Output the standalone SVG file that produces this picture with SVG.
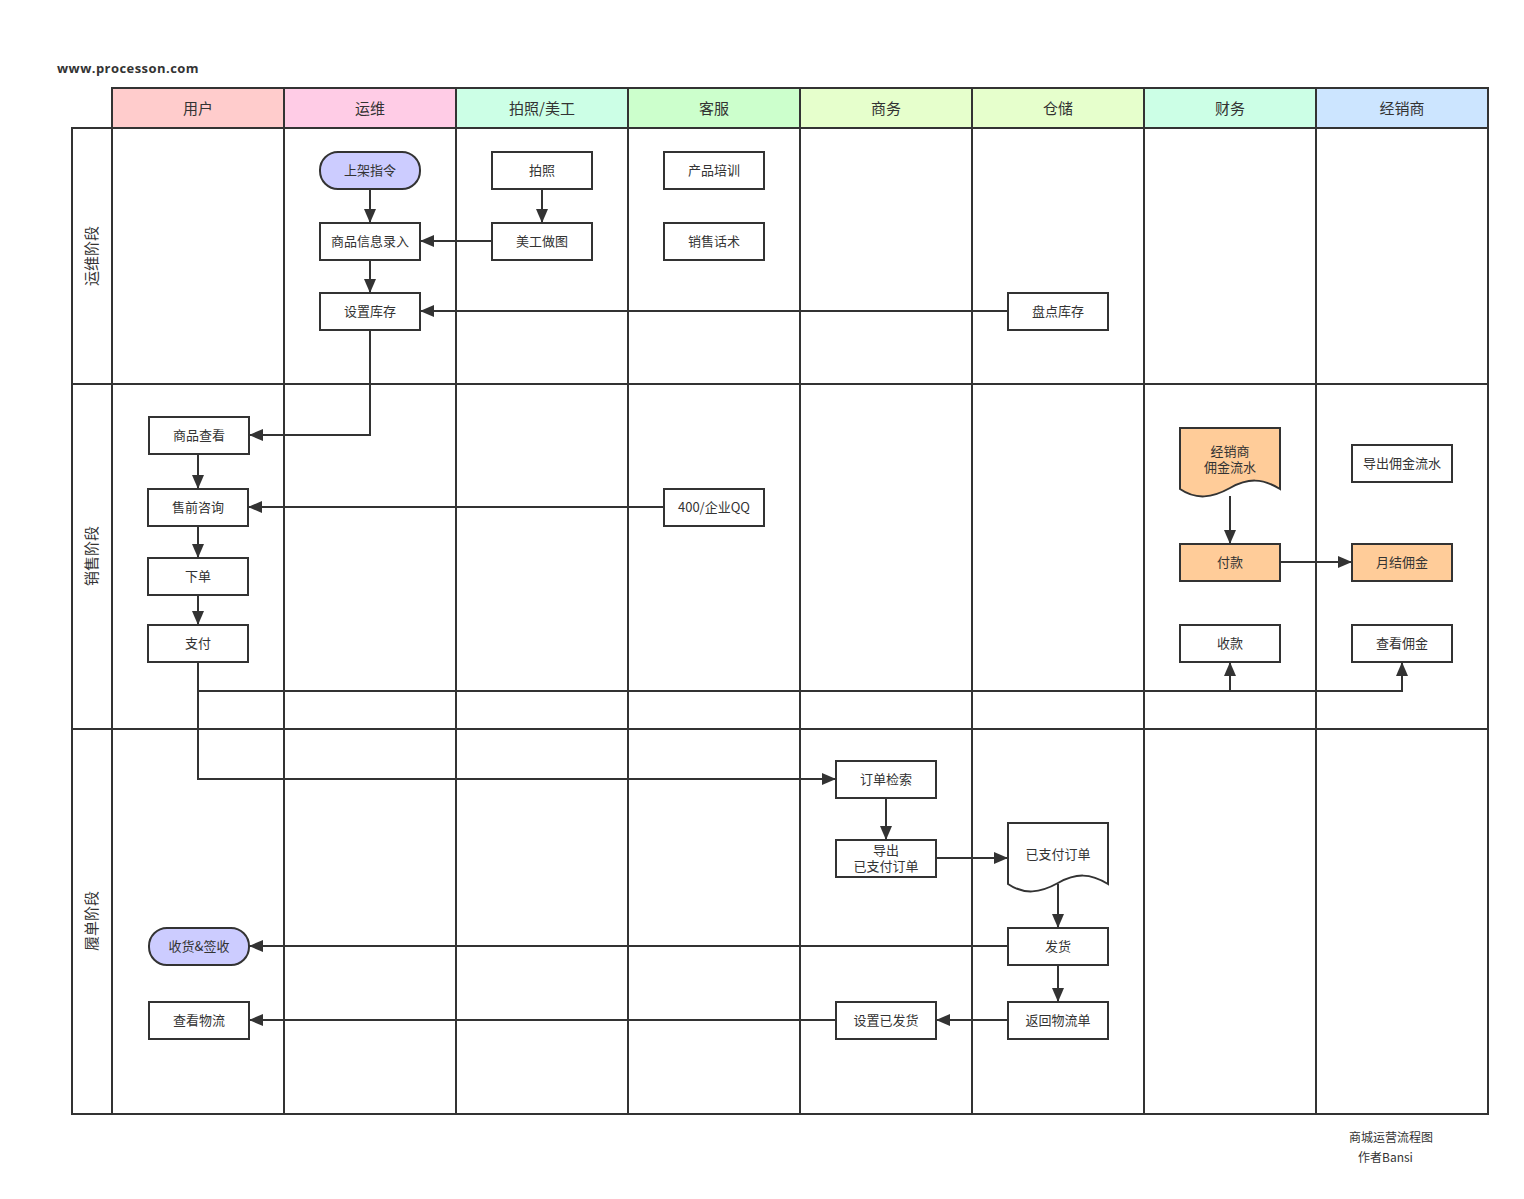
<svg xmlns="http://www.w3.org/2000/svg" width="1524" height="1199" viewBox="0 0 1524 1199">
<defs>
<style>
.grid{fill:none;stroke:#333;stroke-width:2}
.hdr{stroke:#333;stroke-width:2}
.ht{font-family:"Noto Sans CJK SC","Liberation Sans",sans-serif;font-size:15px;fill:#333;text-anchor:middle}
.lt{font-family:"Noto Sans CJK SC","Liberation Sans",sans-serif;font-size:15px;fill:#333;text-anchor:middle}
.box{fill:#fff;stroke:#333;stroke-width:2}
.pur{fill:#CCCCFF;stroke:#333;stroke-width:2}
.org{fill:#FFCC99;stroke:#333;stroke-width:2}
.nt{font-family:"Noto Sans CJK SC","Liberation Sans",sans-serif;font-size:13px;fill:#333;text-anchor:middle}
.cn{fill:none;stroke:#333;stroke-width:2;marker-end:url(#ar)}
.cl{fill:none;stroke:#333;stroke-width:2}
</style>
<marker id="ar" markerUnits="userSpaceOnUse" markerWidth="14" markerHeight="12" refX="14" refY="6" orient="auto"><path d="M0,0 L14,6 L0,12 z" fill="#333"/></marker>
</defs>
<rect width="1524" height="1199" fill="#fff"/>
<text x="57" y="73" font-family="'Open Sans','DejaVu Sans',sans-serif" font-size="13" font-weight="bold" letter-spacing="0.45" fill="#333">www.processon.com</text>
<g id="headers">
<rect class="hdr" x="112" y="88" width="172" height="40" fill="#FFCCCC"/>
<rect class="hdr" x="284" y="88" width="172" height="40" fill="#FFCCE6"/>
<rect class="hdr" x="456" y="88" width="172" height="40" fill="#CCFFE6"/>
<rect class="hdr" x="628" y="88" width="172" height="40" fill="#CCFFCC"/>
<rect class="hdr" x="800" y="88" width="172" height="40" fill="#E6FFCC"/>
<rect class="hdr" x="972" y="88" width="172" height="40" fill="#E6FFCC"/>
<rect class="hdr" x="1144" y="88" width="172" height="40" fill="#CCFFE6"/>
<rect class="hdr" x="1316" y="88" width="172" height="40" fill="#CCE5FF"/>
<text class="ht" x="198" y="114">用户</text>
<text class="ht" x="370" y="114">运维</text>
<text class="ht" x="542" y="114">拍照/美工</text>
<text class="ht" x="714" y="114">客服</text>
<text class="ht" x="886" y="114">商务</text>
<text class="ht" x="1058" y="114">仓储</text>
<text class="ht" x="1230" y="114">财务</text>
<text class="ht" x="1402" y="114">经销商</text>
</g>
<g id="grid">
<rect class="grid" x="72" y="128" width="1416" height="986"/>
<path class="grid" d="M112,128V1114M284,128V1114M456,128V1114M628,128V1114M800,128V1114M972,128V1114M1144,128V1114M1316,128V1114M72,384H1488M72,729H1488"/>
<text class="lt" transform="translate(97,256) rotate(-90)">运维阶段</text>
<text class="lt" transform="translate(97,556) rotate(-90)">销售阶段</text>
<text class="lt" transform="translate(97,921) rotate(-90)">履单阶段</text>
</g>
<g id="connectors">
<path class="cn" d="M370,189V223"/>
<path class="cn" d="M370,260V293"/>
<path class="cn" d="M542,189V223"/>
<path class="cn" d="M492,241H420"/>
<path class="cn" d="M1008,311H420"/>
<path class="cn" d="M370,330V435H249"/>
<path class="cn" d="M198,454V489"/>
<path class="cn" d="M664,507H248"/>
<path class="cn" d="M198,526V558"/>
<path class="cn" d="M198,595V625"/>
<path class="cn" d="M198,662V779H836"/>
<path class="cn" d="M198,691H1230V662"/>
<path class="cn" d="M1230,691H1402V662"/>
<path class="cn" d="M1230,496V544"/>
<path class="cn" d="M1280,562H1352"/>
<path class="cn" d="M886,798V840"/>
<path class="cn" d="M936,858H1008"/>
<path class="cn" d="M1058,884V928"/>
<path class="cn" d="M1008,946H249"/>
<path class="cn" d="M1058,965V1002"/>
<path class="cn" d="M1008,1020H936"/>
<path class="cn" d="M836,1020H249"/>
</g>
<g id="n1"><rect class="pur" x="320" y="152" width="100" height="37" rx="18"/><text class="nt" x="370" y="175">上架指令</text></g>
<g id="n2"><rect class="box" x="320" y="223" width="100" height="37"/><text class="nt" x="370" y="246">商品信息录入</text></g>
<g id="n3"><rect class="box" x="320" y="293" width="100" height="37"/><text class="nt" x="370" y="316">设置库存</text></g>
<g id="n4"><rect class="box" x="492" y="152" width="100" height="37"/><text class="nt" x="542" y="175">拍照</text></g>
<g id="n5"><rect class="box" x="492" y="223" width="100" height="37"/><text class="nt" x="542" y="246">美工做图</text></g>
<g id="n6"><rect class="box" x="664" y="152" width="100" height="37"/><text class="nt" x="714" y="175">产品培训</text></g>
<g id="n7"><rect class="box" x="664" y="223" width="100" height="37"/><text class="nt" x="714" y="246">销售话术</text></g>
<g id="n8"><rect class="box" x="1008" y="293" width="100" height="37"/><text class="nt" x="1058" y="316">盘点库存</text></g>
<g id="n9"><rect class="box" x="149" y="417" width="100" height="37"/><text class="nt" x="199" y="440">商品查看</text></g>
<g id="n10"><rect class="box" x="148" y="489" width="100" height="37"/><text class="nt" x="198" y="512">售前咨询</text></g>
<g id="n11"><rect class="box" x="148" y="558" width="100" height="37"/><text class="nt" x="198" y="581">下单</text></g>
<g id="n12"><rect class="box" x="148" y="625" width="100" height="37"/><text class="nt" x="198" y="648">支付</text></g>
<g id="n13"><rect class="box" x="664" y="489" width="100" height="37"/><text class="nt" x="714" y="512">400/企业QQ</text></g>
<g id="n14"><path class="org" d="M1180,428H1280V489C1262,478 1248,478 1230,488C1212,498 1196,500 1180,489Z"/><text class="nt" x="1230" y="456">经销商</text><text class="nt" x="1230" y="472">佣金流水</text></g>
<g id="n15"><rect class="box" x="1352" y="445" width="100" height="37"/><text class="nt" x="1402" y="468">导出佣金流水</text></g>
<g id="n16"><rect class="org" x="1180" y="544" width="100" height="37"/><text class="nt" x="1230" y="567">付款</text></g>
<g id="n17"><rect class="org" x="1352" y="544" width="100" height="37"/><text class="nt" x="1402" y="567">月结佣金</text></g>
<g id="n18"><rect class="box" x="1180" y="625" width="100" height="37"/><text class="nt" x="1230" y="648">收款</text></g>
<g id="n19"><rect class="box" x="1352" y="625" width="100" height="37"/><text class="nt" x="1402" y="648">查看佣金</text></g>
<g id="n20"><rect class="box" x="836" y="761" width="100" height="37"/><text class="nt" x="886" y="784">订单检索</text></g>
<g id="n21"><rect class="box" x="836" y="840" width="100" height="37"/><text class="nt" x="886" y="855">导出</text><text class="nt" x="886" y="871">已支付订单</text></g>
<g id="n22"><path class="box" d="M1008,823H1108V884C1090,873 1076,873 1058,883C1040,893 1024,895 1008,884Z"/><text class="nt" x="1058" y="859">已支付订单</text></g>
<g id="n23"><rect class="box" x="1008" y="928" width="100" height="37"/><text class="nt" x="1058" y="951">发货</text></g>
<g id="n24"><rect class="box" x="1008" y="1002" width="100" height="37"/><text class="nt" x="1058" y="1025">返回物流单</text></g>
<g id="n25"><rect class="box" x="836" y="1002" width="100" height="37"/><text class="nt" x="886" y="1025">设置已发货</text></g>
<g id="n26"><rect class="pur" x="149" y="928" width="100" height="37" rx="18"/><text class="nt" x="199" y="951">收货&amp;签收</text></g>
<g id="n27"><rect class="box" x="149" y="1002" width="100" height="37"/><text class="nt" x="199" y="1025">查看物流</text></g>
<text x="1349" y="1142" font-family="'Noto Sans CJK SC','Liberation Sans',sans-serif" font-size="12" fill="#333">商城运营流程图</text>
<text x="1358" y="1162" font-family="'Noto Sans CJK SC','Liberation Sans',sans-serif" font-size="12" fill="#333">作者Bansi</text>
</svg>
